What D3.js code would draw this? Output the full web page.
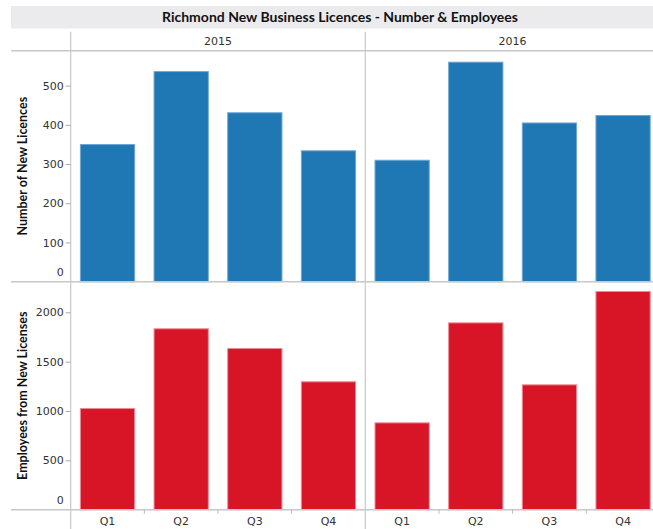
<!DOCTYPE html>
<html><head><meta charset="utf-8">
<script src="https://cdn.jsdelivr.net/npm/d3@7"></script>
<style>html,body{margin:0;padding:0;background:#fff;overflow:hidden}</style>
</head><body>
<svg id="chart" width="653" height="529"></svg>
<script>
const title = "Richmond New Business Licences - Number & Employees";
const years = ["2015", "2016"];
const quarters = ["Q1", "Q2", "Q3", "Q4"];
const licences2015 = [351, 537, 432, 335];
const licences2016 = [311, 561, 406, 425];
const employees2015 = [1030, 1838, 1638, 1301];
const employees2016 = [885, 1898, 1270, 2216];
const licenceTicks = [0, 100, 200, 300, 400, 500];
const employeeTicks = [0, 500, 1000, 1500, 2000];
const yTitles = ["Number of New Licences", "Employees from New Licenses"];

const licences = {"2015": licences2015, "2016": licences2016};
const employees = {"2015": employees2015, "2016": employees2016};

const svg = d3.select("#chart");
const W = 653, H = 529;
const axisX = 70.7, paneW = 294.6;
const headTop = 31.7, headBottom = 50.7;
const sep = 281.7, base2 = 509.7;
const gridCol = "#c8c8c8", textCol = "#333";
const tickFont = "'DejaVu Sans', sans-serif";
const boldFont = "Lato, 'Open Sans', sans-serif";

// title band
svg.append("rect").attr("x", 11).attr("y", 6).attr("width", W - 11).attr("height", 22.5).attr("fill", "#ebebee");
svg.append("text").attr("x", 340).attr("y", 21.5).attr("text-anchor", "middle")
  .attr("font-family", boldFont).attr("font-weight", "bold").attr("font-size", 14).attr("fill", "#111").text(title);

// panel x scales
const xYear = d3.scaleBand().domain(years).range([axisX, axisX + 2 * paneW]);
const xs = {};
years.forEach(y => {
  xs[y] = d3.scaleBand().domain(quarters).range([xYear(y), xYear(y) + xYear.bandwidth()]).paddingInner(0.25).paddingOuter(0.125);
});

// y scales
const y1 = d3.scaleLinear().domain([0, 589]).range([sep, headBottom]);
const y2 = d3.scaleLinear().domain([0, 2310]).range([base2, sep]);

// header labels
years.forEach(y => {
  svg.append("text").attr("x", xYear(y) + xYear.bandwidth() / 2).attr("y", 45).attr("text-anchor", "middle")
    .attr("font-family", tickFont).attr("font-size", 11).attr("fill", textCol).text(y);
});

// bars
function drawBars(data, yScale, fill, stroke) {
  years.forEach(yr => {
    svg.append("g").selectAll("rect").data(data[yr]).join("rect")
      .attr("x", (d, i) => xs[yr](quarters[i]) + 0.5)
      .attr("width", xs[yr].bandwidth() - 1)
      .attr("y", d => yScale(d) + 0.5)
      .attr("height", d => yScale(0) - yScale(d) - 0.5)
      .attr("fill", fill).attr("stroke", stroke).attr("stroke-width", 1);
  });
}
drawBars(licences, y1, "#1f77b4", "#6ea6d2");
drawBars(employees, y2, "#d71526", "#ec8a93");

// grid lines
svg.append("line").attr("x1", 11).attr("x2", W).attr("y1", headBottom).attr("y2", headBottom).attr("stroke", gridCol).attr("stroke-width", 1.5);
svg.append("line").attr("x1", 11).attr("x2", W).attr("y1", sep).attr("y2", sep).attr("stroke", gridCol).attr("stroke-width", 1.5);
svg.append("line").attr("x1", 11).attr("x2", W).attr("y1", base2).attr("y2", base2).attr("stroke", gridCol).attr("stroke-width", 1.5);
years.forEach(y => {
  const x = xYear(y);
  svg.append("line").attr("x1", x).attr("x2", x).attr("y1", headTop).attr("y2", H).attr("stroke", gridCol).attr("stroke-width", 1.2);
});

// y axes
function yAxis(scale, ticks) {
  const g = svg.append("g").attr("transform", `translate(${axisX},0)`)
    .call(d3.axisLeft(scale).tickValues(ticks).tickSize(5).tickPadding(2).tickFormat(d3.format("d")));
  g.select(".domain").remove();
  g.selectAll(".tick line").attr("stroke", "#aaa");
  g.selectAll(".tick text").attr("font-family", tickFont).attr("font-size", 11).attr("fill", textCol);
  g.selectAll(".tick").filter(d => d === 0).select("line").remove();
  g.selectAll(".tick").filter(d => d === 0).select("text").attr("dy", "-0.6em").attr("x", -7);
}
yAxis(y1, licenceTicks);
yAxis(y2, employeeTicks);

// y titles
[[y1, yTitles[0]], [y2, yTitles[1]]].forEach(([s, t]) => {
  const cy = (s.range()[0] + s.range()[1]) / 2;
  svg.append("text").attr("transform", `translate(27,${cy}) rotate(-90)`).attr("text-anchor", "middle")
    .attr("font-family", boldFont).attr("font-weight", "bold").attr("font-size", 12.5).attr("fill", "#111").text(t);
});

// bottom axes
years.forEach(yr => {
  const g = svg.append("g").attr("transform", `translate(0,${base2})`)
    .call(d3.axisBottom(xs[yr]).tickSize(0).tickPadding(8));
  g.select(".domain").remove();
  g.selectAll(".tick text").attr("font-family", tickFont).attr("font-size", 11).attr("fill", textCol);
  // separators between quarters
  g.selectAll("line.sepTick").data(quarters.slice(1)).join("line").attr("class", "sepTick")
    .attr("x1", d => xs[yr](d) - xs[yr].step() * xs[yr].paddingInner() / 2)
    .attr("x2", d => xs[yr](d) - xs[yr].step() * xs[yr].paddingInner() / 2)
    .attr("y1", 0).attr("y2", 4).attr("stroke", "#bbb");
});
</script>
</body></html>
